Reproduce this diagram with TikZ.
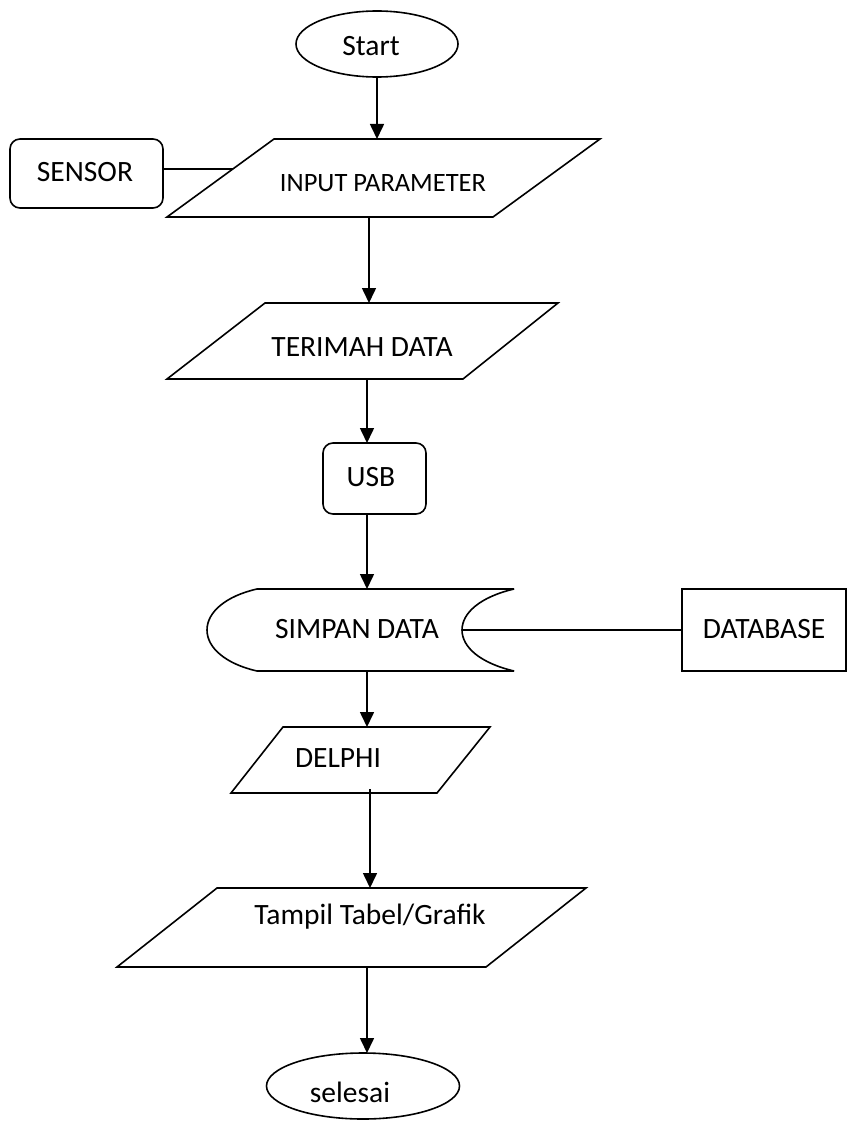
\documentclass[tikz,border=0pt]{standalone}
\usepackage{fontspec}
\setmainfont{Carlito}
\usetikzlibrary{arrows.meta,shapes.geometric}
\begin{document}
\begin{tikzpicture}[x=1pt,y=-1pt,line width=1.6pt,line join=miter,
  lbl/.style={font=\fontsize{29.5}{33}\selectfont,inner sep=0pt},
  lblsmall/.style={font=\fontsize{26.5}{30}\selectfont,inner sep=0pt},
  conn/.style={-{Triangle[length=15pt,width=14pt]}},
  term/.style={ellipse,draw,inner sep=0pt},
  roundbox/.style={draw,rounded corners=10pt,inner sep=0pt},
  sqbox/.style={draw,inner sep=0pt}]
\useasboundingbox (0,0) rectangle (847,1126);

% Start
\node[term,minimum width=162pt,minimum height=66pt] (start) at (377,44) {};
\node[lbl] (startT) at (371,46) {Start};

% SENSOR
\node[roundbox,minimum width=153pt,minimum height=69pt] (sensor) at (86.5,173.5) {};
\node[lbl] (sensorT) at (85,172) {SENSOR};
\coordinate (senRight) at (163,169);

% INPUT PARAMETER parallelogram
\coordinate (inTL) at (274,139);
\coordinate (inTR) at (600,139);
\coordinate (inBR) at (493,217);
\coordinate (inBL) at (167,217);
\draw (inTL) -- (inTR) -- (inBR) -- (inBL) -- cycle;
\node[lblsmall] (inputT) at (383,183) {INPUT PARAMETER};
\coordinate (inTop) at (377,139);
\coordinate (inBot) at (369,217);
\coordinate (inLeft) at (233,169);

% TERIMAH DATA
\coordinate (teTL) at (265,303);
\coordinate (teTR) at (558,303);
\coordinate (teBR) at (463,379);
\coordinate (teBL) at (167,379);
\draw (teTL) -- (teTR) -- (teBR) -- (teBL) -- cycle;
\node[lbl] (terimaT) at (362,347) {TERIMAH DATA};
\coordinate (teTop) at (369,303);
\coordinate (teBot) at (367,379);

% USB
\node[roundbox,minimum width=103pt,minimum height=71pt] (usb) at (374.5,478.5) {};
\node[lbl] (usbT) at (371,477) {USB};
\coordinate (usbTop) at (367,443);
\coordinate (usbBot) at (367,514);

% SIMPAN DATA (stored data)
\draw (514,589) -- (257,589)
  .. controls (226,596) and (207,612) .. (207,630)
  .. controls (207,648) and (226,664) .. (257,671) -- (514,671);
\draw (514,589) .. controls (480,597) and (462,613) .. (462,630)
  .. controls (462,647) and (480,663) .. (514,671);
\node[lbl] (simpanT) at (357,629) {SIMPAN DATA};
\coordinate (siTop) at (367,589);
\coordinate (siBot) at (367,671);
\coordinate (siRight) at (462,630);

% DATABASE
\node[sqbox,minimum width=164pt,minimum height=82pt] (db) at (764,630) {};
\node[lbl] (dbT) at (764,629) {DATABASE};

% DELPHI
\coordinate (deTL) at (283,727);
\coordinate (deTR) at (490,727);
\coordinate (deBR) at (437,793);
\coordinate (deBL) at (231,793);
\draw (deTL) -- (deTR) -- (deBR) -- (deBL) -- cycle;
\node[lbl] (delphiT) at (338,758) {DELPHI};
\coordinate (deTop) at (367,727);
\coordinate (deBot) at (370,789);

% Tampil Tabel/Grafik
\coordinate (taTL) at (217,888);
\coordinate (taTR) at (586,888);
\coordinate (taBR) at (486,967);
\coordinate (taBL) at (117,967);
\draw (taTL) -- (taTR) -- (taBR) -- (taBL) -- cycle;
\node[lbl] (tampilT) at (370,917) {Tampil Tabel/Grafik};
\coordinate (taTop) at (370,888);
\coordinate (taBot) at (367,967);

% selesai
\node[term,minimum width=193pt,minimum height=66pt] (end) at (363,1086) {};
\node[lbl] (endT) at (350,1092) {selesai};
\coordinate (endTop) at (367,1053);

% connectors
\draw[conn] (start.south) -- (inTop);
\draw (senRight) -- (inLeft);
\draw[conn] (inBot) -- (teTop);
\draw[conn] (teBot) -- (usbTop);
\draw[conn] (usbBot) -- (siTop);
\draw (siRight) -- (db.west);
\draw[conn] (siBot) -- (deTop);
\draw[conn] (deBot) -- (taTop);
\draw[conn] (taBot) -- (endTop);
\end{tikzpicture}
\end{document}
